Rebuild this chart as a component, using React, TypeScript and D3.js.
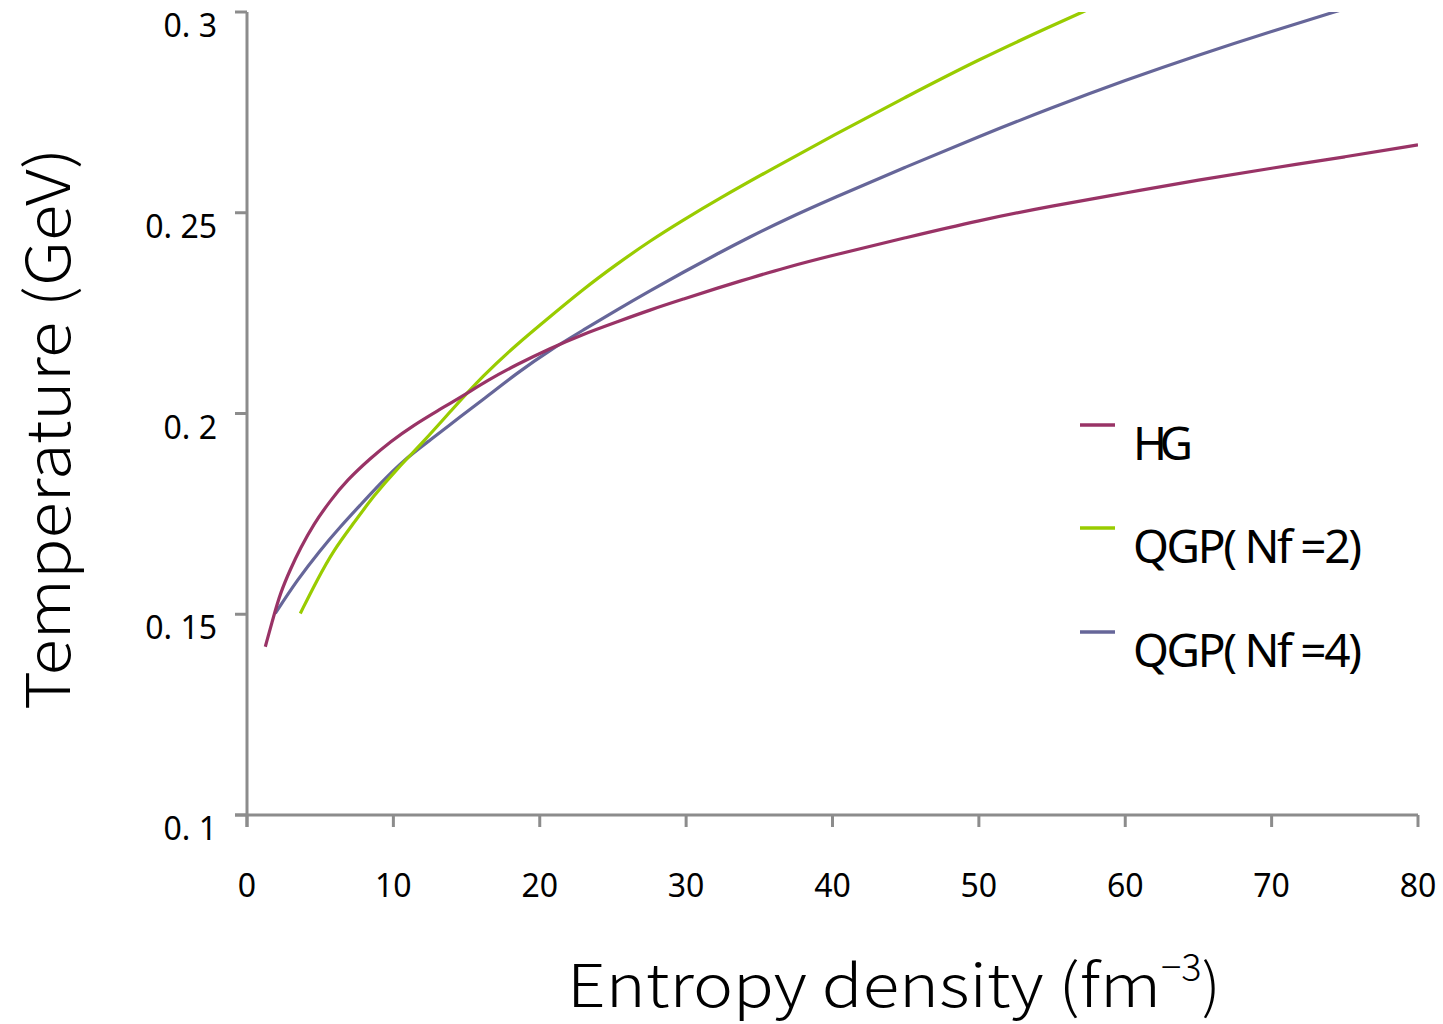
import React, { useRef, useEffect } from "react";
import * as d3 from "d3";

// values
const hgS = [1.25, 1.82, 2.28, 2.96, 3.64, 4.56, 5.69, 6.83, 8.42, 9.79, 11.39, 12.98, 14.8, 16.4, 18.42, 20.7, 22.98, 25.26, 27.53, 29.81, 32.09, 34.36, 36.64, 40, 45, 50, 55, 60, 65, 70, 75, 80];
const hgT = [0.1419, 0.1495, 0.1553, 0.1612, 0.1664, 0.1725, 0.1783, 0.1834, 0.1888, 0.193, 0.1971, 0.2006, 0.2045, 0.2082, 0.2122, 0.2162, 0.2198, 0.2228, 0.2258, 0.2285, 0.2312, 0.2337, 0.2362, 0.2394, 0.2438, 0.2481, 0.2517, 0.2549, 0.2582, 0.2611, 0.2639, 0.2669];

const nf2S = [3.64, 4.78, 5.92, 7.29, 8.65, 10.25, 12.07, 13.89, 16.14, 18.42, 20.7, 22.98, 25.26, 27.53, 29.81, 32.09, 36, 40, 45, 50, 55, 57.5];
const nf2T = [0.1502, 0.1585, 0.166, 0.1727, 0.1795, 0.1862, 0.193, 0.2005, 0.2095, 0.2172, 0.2241, 0.231, 0.2372, 0.243, 0.2482, 0.2532, 0.2612, 0.2692, 0.2788, 0.2882, 0.2966, 0.3007];

const nf4S = [1.93, 3.42, 5.01, 6.37, 7.74, 9.11, 10.7, 12.52, 14.57, 16.5, 18.42, 20.7, 22.98, 25.26, 27.53, 29.81, 32.09, 34.36, 36.64, 40, 45, 50, 55, 60, 65, 70, 75];
const nf4T = [0.1502, 0.1585, 0.166, 0.1718, 0.1772, 0.1826, 0.1884, 0.1934, 0.1992, 0.2045, 0.21, 0.2158, 0.2208, 0.2258, 0.2306, 0.2352, 0.2397, 0.244, 0.2481, 0.2536, 0.2614, 0.269, 0.2762, 0.283, 0.2893, 0.2952, 0.3008];

const seriesNames = ["HG", "QGP( Nf =2)", "QGP( Nf =4)"];
const seriesColors = ["#993366", "#99cc00", "#666699"];

const xTicks = [0, 10, 20, 30, 40, 50, 60, 70, 80];
const yTicks = [0.1, 0.15, 0.2, 0.25, 0.3];
const yTickLabels = ["0. 1", "0. 15", "0. 2", "0. 25", "0. 3"];

const W = 1443;
const H = 1024;
const font = "'Noto Sans', 'Noto Sans CJK KR', sans-serif";
const titleFont = "'Noto Sans CJK KR', 'Noto Sans', sans-serif";

export default function App() {
  const svgRef = useRef<SVGSVGElement>(null);

  useEffect(() => {
    const svg = d3.select(svgRef.current);
    svg.selectAll("*").remove();

    const x = d3.scaleLinear().domain([0, 80]).range([247, 1418]);
    const y = d3.scaleLinear().domain([0.1, 0.3]).range([815, 12]);
    const axisColor = "#8c8c8c";

    svg
      .append("defs")
      .append("clipPath")
      .attr("id", "plotClip")
      .append("rect")
      .attr("x", 247)
      .attr("y", 12)
      .attr("width", 1171)
      .attr("height", 803);

    // y axis
    svg.append("line")
      .attr("x1", x(0)).attr("x2", x(0))
      .attr("y1", y(0.3)).attr("y2", y(0.1) + 12)
      .attr("stroke", axisColor).attr("stroke-width", 3);
    yTicks.forEach((t, i) => {
      svg.append("line")
        .attr("x1", x(0) - 12).attr("x2", x(0))
        .attr("y1", y(t)).attr("y2", y(t))
        .attr("stroke", axisColor).attr("stroke-width", 3);
      svg.append("text")
        .attr("x", 217).attr("y", y(t) + 25)
        .attr("text-anchor", "end")
        .attr("font-family", font).attr("font-size", 32)
        .attr("fill", "#000")
        .text(yTickLabels[i]);
    });

    // x axis
    svg.append("line")
      .attr("x1", x(0) - 12).attr("x2", x(80))
      .attr("y1", y(0.1)).attr("y2", y(0.1))
      .attr("stroke", axisColor).attr("stroke-width", 3);
    xTicks.forEach((t) => {
      svg.append("line")
        .attr("x1", x(t)).attr("x2", x(t))
        .attr("y1", y(0.1)).attr("y2", y(0.1) + 12)
        .attr("stroke", axisColor).attr("stroke-width", 3);
      svg.append("text")
        .attr("x", x(t)).attr("y", 897)
        .attr("text-anchor", "middle")
        .attr("font-family", font).attr("font-size", 32)
        .attr("fill", "#000")
        .text(String(t));
    });

    // curves
    const line = d3
      .line<[number, number]>()
      .x((d) => x(d[0]))
      .y((d) => y(d[1]))
      .curve(d3.curveBasis);

    const series: [number, number][][] = [
      hgS.map((s, i) => [s, hgT[i]]),
      nf2S.map((s, i) => [s, nf2T[i]]),
      nf4S.map((s, i) => [s, nf4T[i]]),
    ];

    const plot = svg.append("g").attr("clip-path", "url(#plotClip)");
    // blue first, then green, HG on top
    [2, 1, 0].forEach((k) => {
      plot.append("path")
        .attr("d", line(series[k]))
        .attr("fill", "none")
        .attr("stroke", seriesColors[k])
        .attr("stroke-width", 3.2);
    });

    // legend
    const legendY = [425, 528, 632];
    const legendLen = [60, 229, 229];
    seriesNames.forEach((name, i) => {
      svg.append("line")
        .attr("x1", 1080).attr("x2", 1115)
        .attr("y1", legendY[i]).attr("y2", legendY[i])
        .attr("stroke", seriesColors[i]).attr("stroke-width", 3.5);
      svg.append("text")
        .attr("x", 1133).attr("y", legendY[i] + 35)
        .attr("font-family", font).attr("font-size", 46)
        .attr("textLength", legendLen[i])
        .attr("lengthAdjust", "spacing")
        .attr("fill", "#000")
        .text(name);
    });

    // axis titles
    svg.append("text")
      .attr("transform", `translate(70, 429) rotate(-90)`)
      .attr("text-anchor", "middle")
      .attr("font-family", titleFont).attr("font-size", 60)
      .attr("font-weight", 300)
      .attr("textLength", 562)
      .attr("lengthAdjust", "spacingAndGlyphs")
      .attr("fill", "#000")
      .text("Temperature (GeV)");

    const xt = svg.append("text")
      .attr("x", 567).attr("y", 1007)
      .attr("font-family", titleFont).attr("font-size", 59)
      .attr("font-weight", 300)
      .attr("fill", "#000");
    xt.append("tspan").attr("textLength", 594).attr("lengthAdjust", "spacingAndGlyphs").text("Entropy density (fm");
    xt.append("tspan").attr("dy", -26).attr("font-size", 38).text("−3");
    xt.append("tspan").attr("dy", 26).text(")");
  }, []);

  return (
    <svg
      ref={svgRef}
      width={W}
      height={H}
      viewBox={`0 0 ${W} ${H}`}
      style={{ position: "absolute", left: 0, top: 0, display: "block", background: "#fff" }}
    />
  );
}
